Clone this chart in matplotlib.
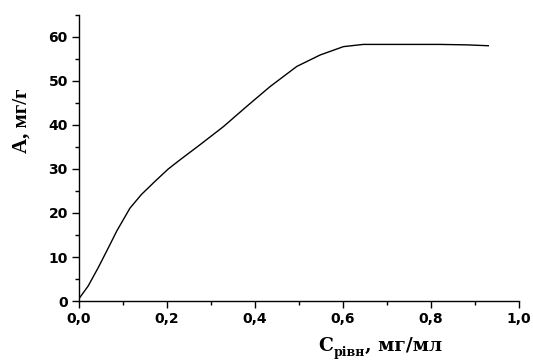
import matplotlib
matplotlib.use("Agg")
import matplotlib.pyplot as plt
from matplotlib.ticker import MultipleLocator

# Curve data
c_eq = [0.0, 0.021, 0.044, 0.067, 0.086, 0.101, 0.116, 0.142, 0.173, 0.203,
        0.230, 0.275, 0.328, 0.381, 0.434, 0.495, 0.548, 0.601, 0.646, 0.684,
        0.745, 0.820, 0.880, 0.930]
a_val = [0.5, 3.4, 7.6, 12.1, 15.9, 18.5, 21.1, 24.2, 27.2, 30.0,
         32.1, 35.5, 39.6, 44.2, 48.7, 53.3, 55.9, 57.8, 58.3, 58.3,
         58.3, 58.3, 58.2, 58.0]

xticks = [0.0, 0.2, 0.4, 0.6, 0.8, 1.0]
xticklabels = ['0,0', '0,2', '0,4', '0,6', '0,8', '1,0']
yticks = [0, 10, 20, 30, 40, 50, 60]
yticklabels = ['0', '10', '20', '30', '40', '50', '60']

fig = plt.figure(figsize=(5.33, 3.64), dpi=100)
ax = fig.add_axes([0.148, 0.173, 0.826, 0.786])

ax.plot(c_eq, a_val, color='black', lw=1.0)

ax.set_xlim(0, 1.0)
ax.set_ylim(0, 65)
for s in ['top', 'right']:
    ax.spines[s].set_visible(False)
for s in ['left', 'bottom']:
    ax.spines[s].set_linewidth(1.0)

ax.set_xticks(xticks)
ax.set_xticklabels(xticklabels)
ax.set_yticks(yticks)
ax.set_yticklabels(yticklabels)
ax.xaxis.set_minor_locator(MultipleLocator(0.1))
ax.yaxis.set_minor_locator(MultipleLocator(5))
ax.tick_params(which='major', direction='out', length=5, width=1.0)
ax.tick_params(which='minor', direction='out', length=3, width=1.0)
ax.tick_params(axis='x', pad=3)
ax.tick_params(axis='y', pad=3)
for lab in ax.get_xticklabels() + ax.get_yticklabels():
    lab.set_fontfamily('DejaVu Sans')
    lab.set_fontweight('bold')
    lab.set_fontsize(10)

# x-axis label: C with lowered subscript, then units
lab_font = dict(fontfamily='DejaVu Serif', fontweight='bold')
t1 = fig.text(0.598, 0.036, 'C', ha='left', va='baseline', fontsize=13.5, **lab_font)
t2 = ax.annotate('рівн', xy=(1, 0), xycoords=t1, xytext=(0.5, -1),
                 textcoords='offset pixels', ha='left', va='baseline',
                 fontsize=9, annotation_clip=False, **lab_font)
t3 = ax.annotate(', мг/мл', xy=(1, 0), xycoords=(t2, t1), xytext=(0, 0),
                 textcoords='offset pixels', ha='left', va='bottom',
                 fontsize=13.5, annotation_clip=False, **lab_font)

fig.text(0.04, 0.668, 'A, мг/г', ha='center', va='center', rotation=90,
         fontfamily='Liberation Serif', fontweight='bold', fontsize=15)

fig.savefig('out.png', dpi=100)
